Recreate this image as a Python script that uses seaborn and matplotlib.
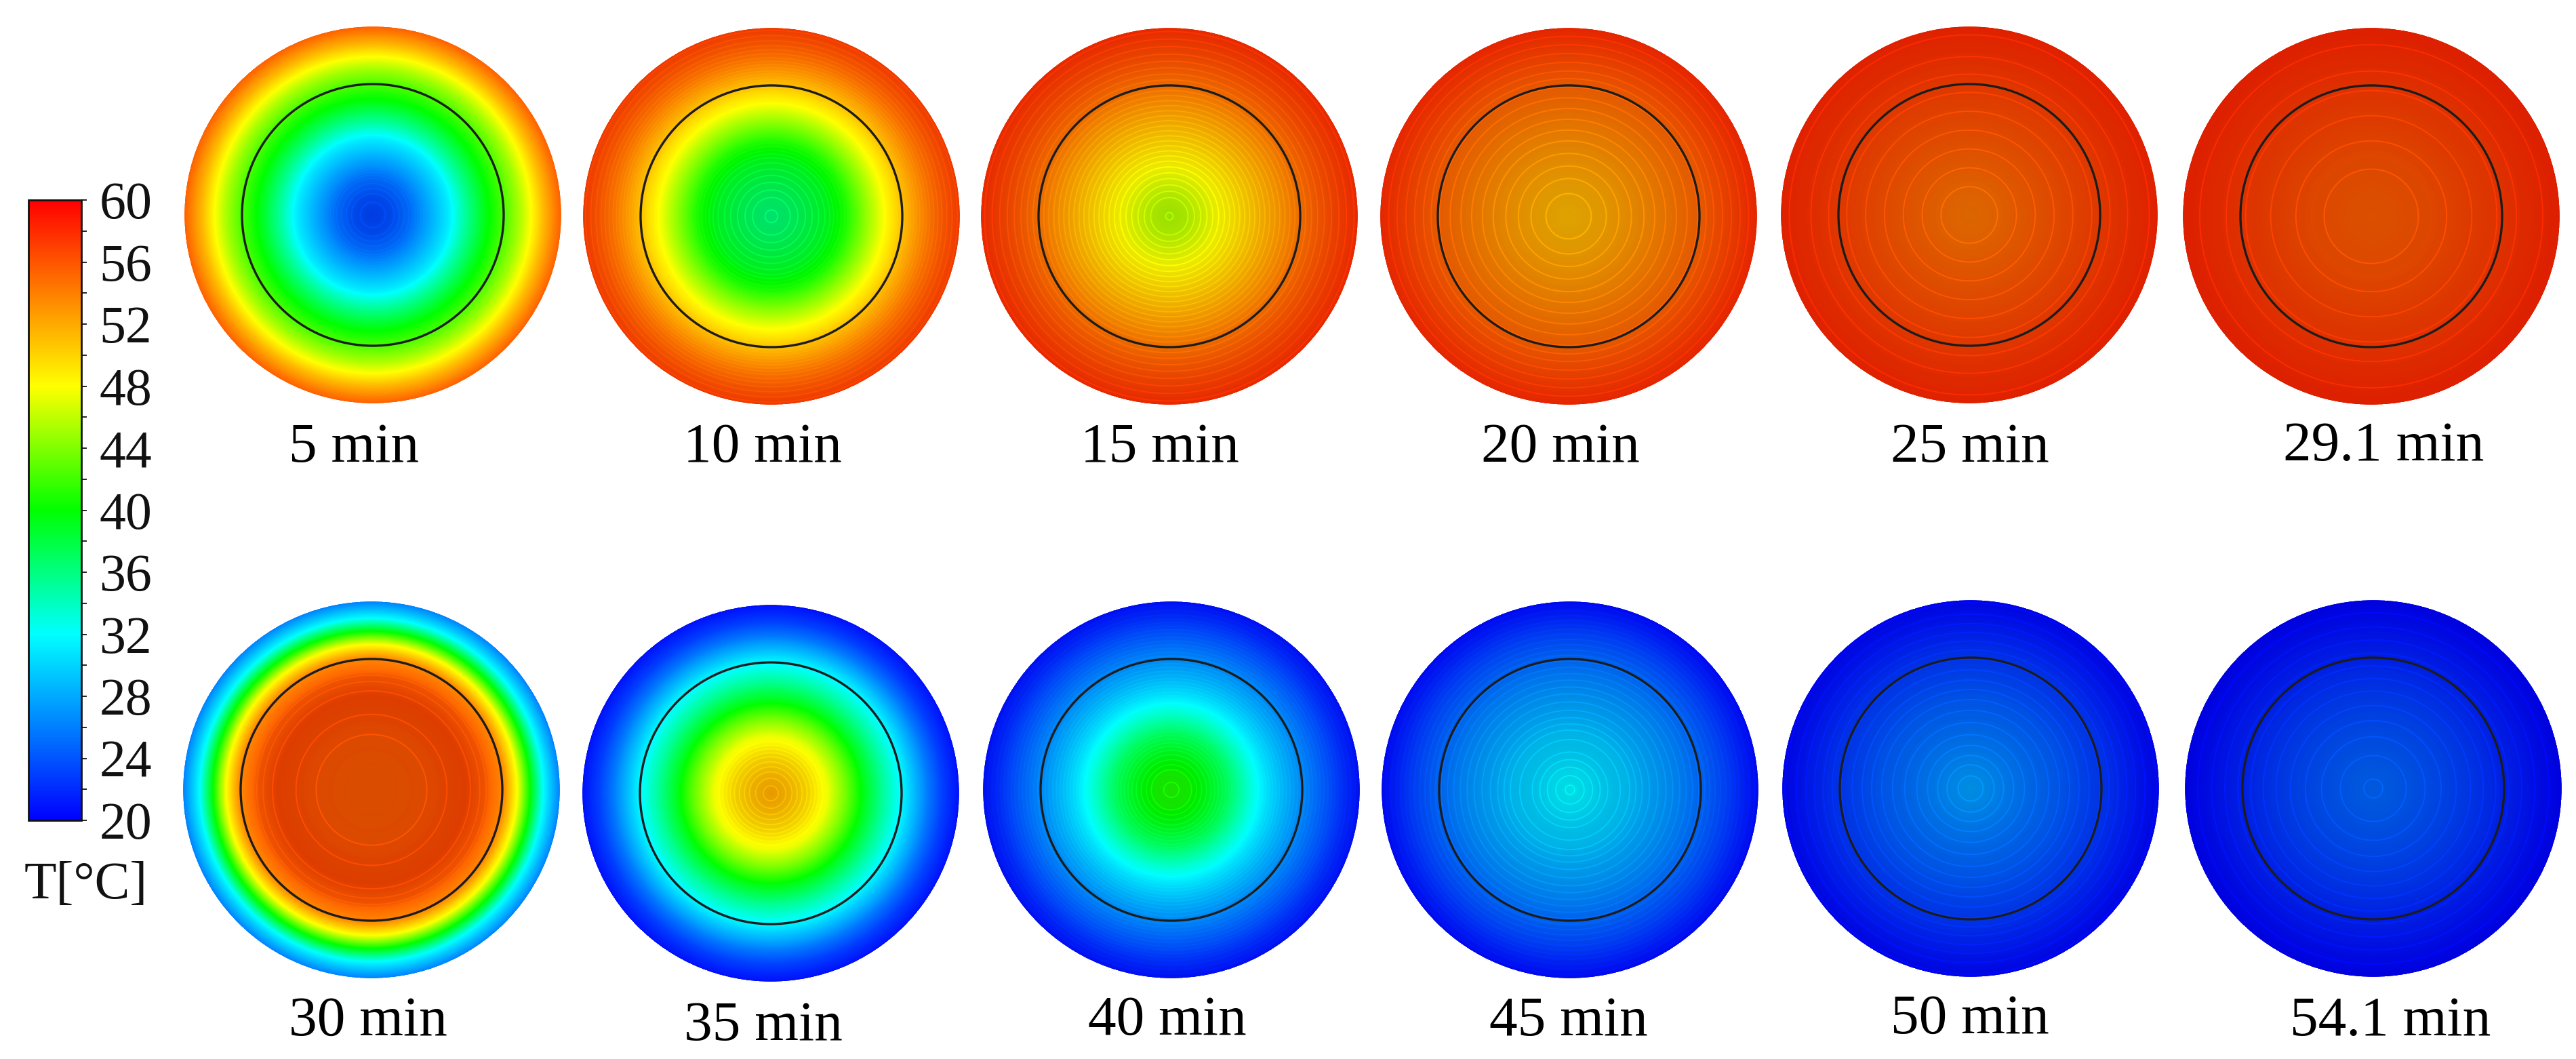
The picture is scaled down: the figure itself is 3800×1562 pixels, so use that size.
import numpy as np
import seaborn as sns
import matplotlib
matplotlib.use("Agg")
import matplotlib.pyplot as plt
from matplotlib.colors import LinearSegmentedColormap, Normalize
from matplotlib.patches import Circle

W, H = 3800, 1562

# radius as a fraction of the disc radius, and temperature read at that radius
radii = [0, .1, .2, .3, .4, .5, .6, .7, .77, .84, .91, 1]
t_5 = [23.2, 23.8, 25.3, 28, 31, 35.5, 39.5, 42.5, 45, 48, 51.5, 55.5]
t_10 = [36.2, 36.8, 37.8, 39, 41, 44.5, 48, 51, 52.8, 54.4, 55.7, 57]
t_15 = [45.5, 46, 47.2, 48.5, 50, 51.5, 53, 54.5, 55.4, 56.2, 56.9, 57.8]
t_20 = [51.2, 51.5, 52, 52.6, 53.2, 53.9, 54.6, 55.3, 56, 56.6, 57.2, 58]
t_25 = [54.4, 54.6, 55, 55.4, 55.8, 56.2, 56.6, 57, 57.3, 57.6, 57.8, 58.2]
t_29 = [55.6, 55.7, 55.9, 56.1, 56.4, 56.7, 57, 57.3, 57.6, 57.8, 58, 58.3]
t_30 = [55.7, 55.75, 55.85, 56.01, 56.4, 56.6, 55.8, 53.5, 48, 40, 32, 26]
t_35 = [52, 51, 49.5, 47.5, 43.5, 39, 35, 31.5, 28.5, 25.5, 23, 20.8]
t_40 = [41, 40.5, 39, 37, 33.8, 30.8, 28.6, 26.6, 25.2, 23.8, 22.3, 20.8]
t_45 = [31.8, 31, 30, 29.4, 28.2, 27.3, 26.2, 25, 24, 23, 21.8, 20.5]
t_50 = [27.6, 27, 26.2, 25.5, 24.9, 24.2, 23.4, 22.7, 22.1, 21.5, 20.9, 20.3]
t_54 = [24.9, 24.7, 24.3, 23.9, 23.4, 22.9, 22.3, 21.7, 21.3, 20.9, 20.5, 20.1]
profiles = [t_5, t_10, t_15, t_20, t_25, t_29, t_30, t_35, t_40, t_45, t_50, t_54]

labels = ["5 min", "10 min", "15 min", "20 min", "25 min", "29.1 min",
          "30 min", "35 min", "40 min", "45 min", "50 min", "54.1 min"]

major_ticks = [20, 24, 28, 32, 36, 40, 44, 48, 52, 56, 60]
minor_ticks = [22, 26, 30, 34, 38, 42, 46, 50, 54, 58]

# layout in reference pixels
disc_cx = [550, 1138, 1725, 2314, 2905, 3498, 548, 1137, 1728, 2316, 2907, 3501]
disc_cy = [317, 319, 319, 319, 317, 319, 1165, 1170, 1165, 1165, 1163, 1163]
label_x = [522, 1125, 1711, 2302, 2906, 3516, 543, 1126, 1722, 2314, 2906, 3526]
label_y = [681, 681, 681, 681, 681, 679, 1527, 1534, 1526, 1527, 1524, 1527]
DISC_R = 278
INNER_R = 193
HALF = 285

sns.set_style("white")
plt.rcParams["font.family"] = ["Liberation Serif", "DejaVu Serif"]

cmap = LinearSegmentedColormap.from_list(
    "fluent", [(0, "#0000ff"), (.3, "#00ffff"), (.5, "#00ff00"), (.7, "#ffff00"), (1, "#ff0000")], N=512)
norm = Normalize(20, 60)
levels = np.arange(20, 60, 0.4)
ring_colors = [cmap(norm(v)) for v in levels]


def px_axes(fig, x0, y0, x1, y1):
    return fig.add_axes([x0 / W, 1 - y1 / H, (x1 - x0) / W, (y1 - y0) / H])


def draw_disc(fig, cx, cy, profile, cbar_ax=None):
    ax = px_axes(fig, cx - HALF, cy - HALF, cx + HALF, cy + HALF)
    n = 2 * HALF
    centers = np.arange(n) + .5
    xx, yy = np.meshgrid(centers - HALF, centers - HALF)
    r = np.hypot(xx, yy) / DISC_R
    temp = np.interp(r, radii, profile)
    sns.heatmap(temp, mask=r > 1, cmap=cmap, vmin=20, vmax=60, ax=ax,
                xticklabels=False, yticklabels=False,
                cbar=cbar_ax is not None, cbar_ax=cbar_ax)

    # flat parts of the field look darker with bright contour lines on top
    slope = np.abs(np.gradient(np.array(profile, float), radii))
    shade = .15 * np.clip(1 - np.interp(r, radii, slope) / 30, 0, 1)
    shade[r > 1] = 0
    overlay = np.zeros((n, n, 4))
    overlay[..., 3] = shade
    ax.imshow(overlay, extent=(0, n, n, 0), aspect="auto", zorder=2)
    ax.contour(centers, centers, np.ma.masked_where(r > 1, temp), levels=levels,
               colors=ring_colors, linewidths=1.4, zorder=3)

    c = (HALF, HALF)
    ax.add_patch(Circle(c, INNER_R, fill=False, ec="#1c1c1c", lw=2.4, zorder=4))
    ax.add_patch(Circle(c, DISC_R + 3, fill=False, ec="white", lw=4.4, zorder=5))
    ax.set_xlim(0, n)
    ax.set_ylim(n, 0)
    ax.axis("off")
    return ax


fig = plt.figure(figsize=(W / 100, H / 100), dpi=100, facecolor="white")
cax = px_axes(fig, 42, 295, 120, 1210)

for i, (cx, cy, profile) in enumerate(zip(disc_cx, disc_cy, profiles)):
    ax = draw_disc(fig, cx, cy, profile, cbar_ax=cax if i == 0 else None)
    if i == 0:
        cbar = ax.collections[0].colorbar
    fig.text(label_x[i] / W, 1 - label_y[i] / H, labels[i], fontsize=60,
             ha="center", va="baseline", color="black")

cbar.set_ticks(major_ticks)
cax.set_yticks(minor_ticks, minor=True)
cax.tick_params(axis="y", which="both", right=True, length=6, width=1.4, color="#222222")
cax.tick_params(axis="y", which="major", labelsize=56, pad=13, labelcolor="#111111")
cbar.outline.set_visible(True)
cbar.outline.set_edgecolor("#111111")
cbar.outline.set_linewidth(2.0)

fig.text(127 / W, 1 - 1325 / H, "T[°C]", fontsize=56, ha="center", va="baseline", color="#111111")

fig.savefig("out.png", dpi=100, facecolor="white")
